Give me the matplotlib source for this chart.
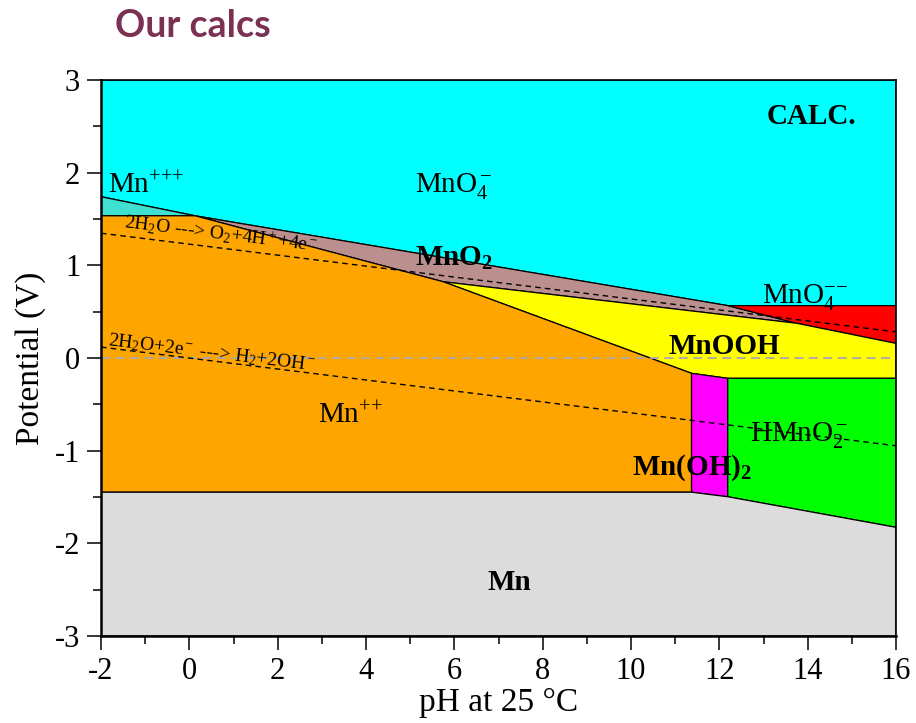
import matplotlib.pyplot as plt
from matplotlib.patches import Polygon
from matplotlib.ticker import MultipleLocator

plt.rcParams['font.family'] = ['Liberation Serif', 'DejaVu Serif']
plt.rcParams['mathtext.fontset'] = 'custom'
plt.rcParams['mathtext.rm'] = 'Liberation Serif'
plt.rcParams['mathtext.it'] = 'Liberation Serif:italic'
plt.rcParams['mathtext.bf'] = 'Liberation Serif:bold'
plt.rcParams['axes.unicode_minus'] = False

# Mn-H2O Pourbaix fields, corner points as (pH, E / V)
mno4_ph  = [-2, 16, 16, 12.2, 0.13, -2]
mno4_e   = [3, 3, 0.565, 0.565, 1.535, 1.741]
mn3_ph   = [-2, 0.13, -2]
mn3_e    = [1.741, 1.535, 1.535]
mno2_ph  = [0.13, 12.2, 13.75, 5.75]
mno2_e   = [1.535, 0.565, 0.375, 0.823]
mno4b_ph = [12.2, 16, 16, 13.75]
mno4b_e  = [0.565, 0.565, 0.158, 0.375]
mnooh_ph = [5.75, 13.75, 16, 16, 12.19, 11.37]
mnooh_e  = [0.823, 0.375, 0.158, -0.219, -0.219, -0.165]
mn2_ph   = [-2, 0.13, 5.75, 11.37, 11.37, -2]
mn2_e    = [1.535, 1.535, 0.823, -0.165, -1.448, -1.448]
mnoh2_ph = [11.37, 12.19, 12.19, 11.37]
mnoh2_e  = [-0.165, -0.219, -1.497, -1.448]
hmno2_ph = [12.19, 16, 16, 12.19]
hmno2_e  = [-0.219, -0.219, -1.827, -1.497]
mn_ph    = [-2, 11.37, 12.19, 16, 16, -2]
mn_e     = [-1.448, -1.448, -1.497, -1.827, -3, -3]

# water stability limits
water_ph = [-2, 16]
o2_e = [1.347, 0.282]
h2_e = [0.118, -0.947]

fields = [
    (mno4_ph, mno4_e, 'cyan'),
    (mn3_ph, mn3_e, 'turquoise'),
    (mno2_ph, mno2_e, 'rosybrown'),
    (mno4b_ph, mno4b_e, 'red'),
    (mnooh_ph, mnooh_e, 'yellow'),
    (mn2_ph, mn2_e, 'orange'),
    (mnoh2_ph, mnoh2_e, 'magenta'),
    (hmno2_ph, hmno2_e, 'lime'),
    (mn_ph, mn_e, 'gainsboro'),
]

fig = plt.figure(figsize=(9.16, 7.23), dpi=100)
ax = fig.add_axes([0.1103, 0.1203, 0.8679, 0.769])

for ph, e, c in fields:
    ax.add_patch(Polygon(list(zip(ph, e)), closed=True, facecolor=c,
                         edgecolor='black', linewidth=0.9, zorder=1))

ax.axhline(0, color='darkgray', linestyle=(0, (5, 3)), linewidth=1.3, zorder=2)
ax.plot(water_ph, o2_e, color='black', linestyle=(0, (4, 3)), linewidth=1, zorder=3)
ax.plot(water_ph, h2_e, color='black', linestyle=(0, (4, 3)), linewidth=1, zorder=3)

lab = dict(fontsize=21, ha='left', va='baseline', zorder=4)
ax.text(-1.84, 1.78, r'Mn$^{{+}{+}{+}}$', **lab)
ax.text(5.11, 1.79, r'MnO$_4^-$', **lab)
ax.text(13.08, 2.525, 'CALC.', fontweight='bold', **lab)
ax.text(5.11, 1.0, r'$\mathbf{MnO_2}$', **lab)
ax.text(12.96, 0.59, r'MnO$_4^{{-}{-}}$', **lab)
ax.text(10.84, 0.043, 'MnOOH', fontweight='bold', **lab)
ax.text(2.91, -0.70, r'Mn$^{{+}{+}}$', **lab)
ax.text(12.69, -0.892, r'HMnO$_2^-$', **lab)
ax.text(10.02, -1.262, r'$\mathbf{Mn(OH)_2}$', **lab)
ax.text(6.76, -2.50, 'Mn', fontweight='bold', **lab)

wl = dict(fontsize=14, ha='left', va='baseline', rotation=-7,
          rotation_mode='anchor', zorder=4)
ax.text(-1.50, 1.40, r'2H$_2$O ---> O$_2$+4H$^+$+4e$^-$', **wl)
ax.text(-1.86, 0.14, r'2H$_2$O+2e$^-$ ---> H$_2$+2OH$^-$', **wl)

ax.set_xlim(-2, 16)
ax.set_ylim(-3, 3)
ax.set_xticks(range(-2, 17, 2))
ax.set_yticks(range(-3, 4))
ax.xaxis.set_minor_locator(MultipleLocator(1))
ax.yaxis.set_minor_locator(MultipleLocator(0.5))
ax.tick_params(which='major', direction='out', length=10, width=1.1,
               labelsize=22, pad=5)
ax.tick_params(which='minor', direction='out', length=6, width=1.1)
for s in ax.spines.values():
    s.set_linewidth(1.2)
ax.spines['left'].set_linewidth(1.8)
ax.spines['bottom'].set_linewidth(1.8)

ax.set_xlabel('pH at 25 °C', fontsize=24, labelpad=1)
ax.set_ylabel('Potential (V)', fontsize=24, labelpad=6)

fig.text(115 / 916, 1 - 26 / 723, 'Our calcs', family='Lato', fontweight='bold',
         fontsize=27, color='#7a3152', ha='left', va='center')

fig.savefig('out.png', dpi=100)
